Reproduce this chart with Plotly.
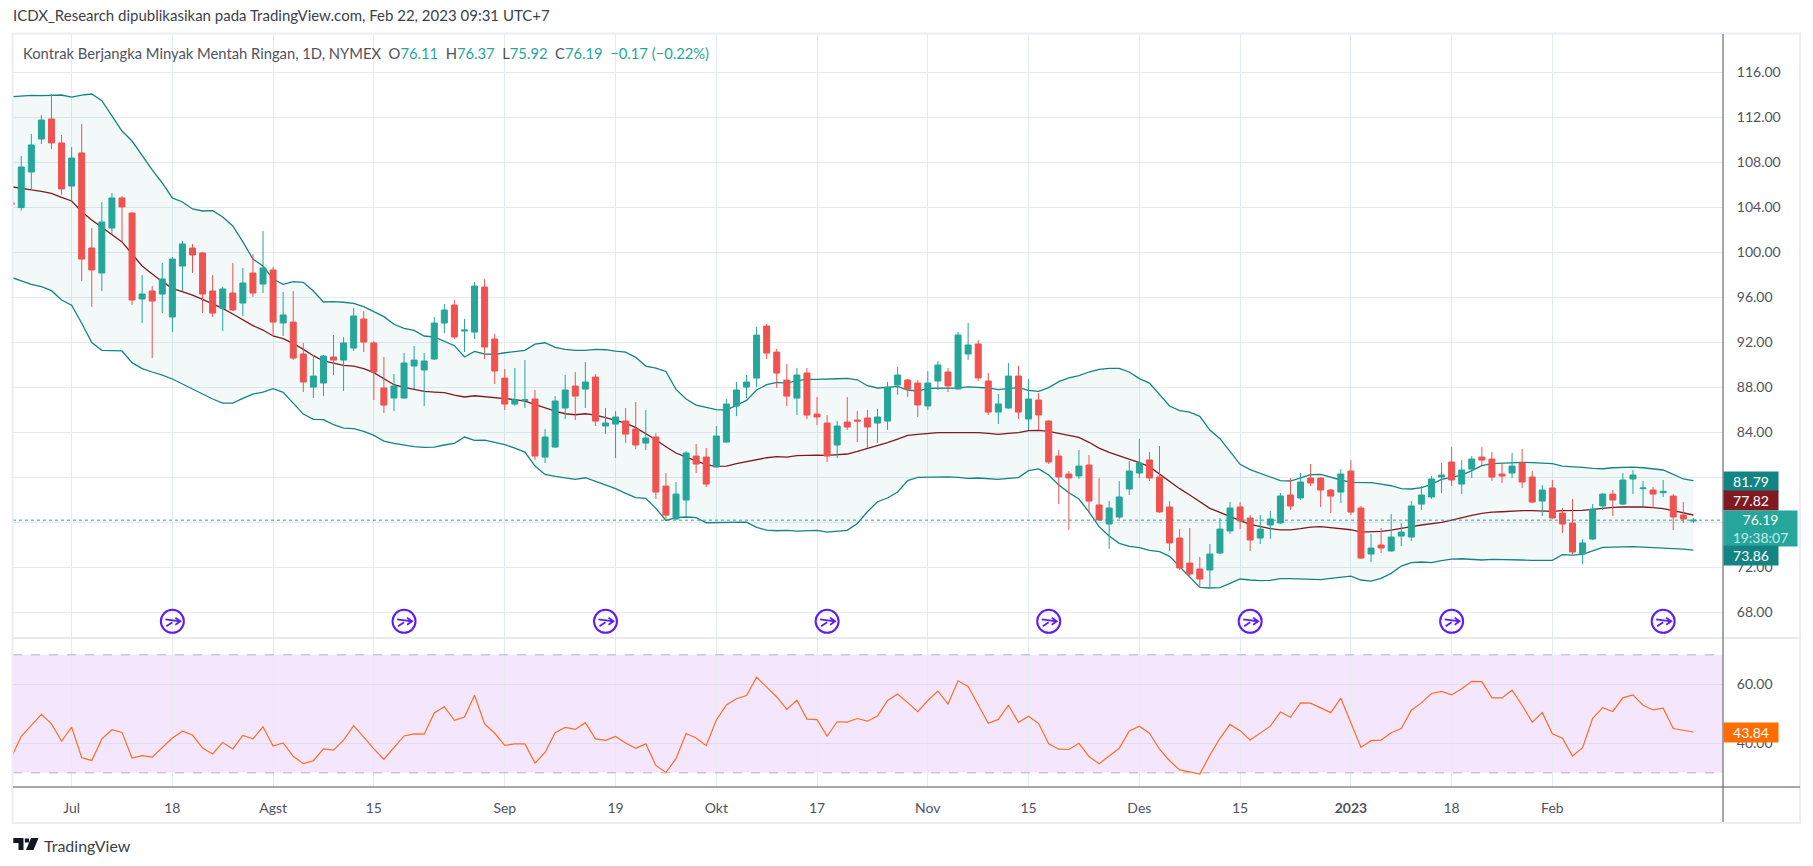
import plotly.graph_objects as go

# bar index 0 is 1 Jul 2022, last bar is 22 Feb 2023 (non trading days are skipped)
bars = list(range(-6, 162))

opens = [
    104.40, 103.97, 107.14, 110.07, 111.85, 109.72, 105.89, 108.83, 100.38, 98.16, 102.16, 104.83,
    103.49, 95.85, 96.56, 96.29, 94.25, 98.78, 100.38, 99.94, 96.56, 95.02, 96.38, 95.49,
    98.16, 97.18, 98.43, 93.72, 93.80, 90.96, 88.02, 88.38, 90.69, 90.42, 91.49, 94.07,
    91.94, 87.94, 87.05, 87.05, 89.89, 89.54, 90.51, 93.71, 95.31, 93.00, 92.91, 96.91,
    92.29, 88.82, 86.51, 86.81, 86.96, 81.80, 82.69, 86.16, 88.11, 87.84, 88.91, 84.56,
    84.73, 85.00, 84.29, 83.04, 83.58, 79.22, 76.29, 77.98, 81.89, 81.80, 80.91, 83.13,
    86.33, 88.02, 88.82, 93.44, 91.13, 88.64, 87.04, 89.27, 85.62, 84.82, 82.87, 84.91,
    85.09, 85.27, 84.82, 85.00, 88.20, 88.65, 88.38, 86.34, 88.56, 89.36, 87.85, 90.96,
    91.85, 88.56, 85.80, 86.16, 89.00, 85.18, 86.87, 85.00, 81.89, 80.29, 80.12, 81.09,
    77.54, 75.85, 76.47, 78.96, 80.38, 81.54, 80.03, 77.36, 74.60, 72.38, 71.85, 71.76,
    73.27, 75.23, 77.36, 76.38, 74.60, 75.76, 75.94, 78.43, 78.16, 79.93, 79.93, 78.87,
    78.69, 80.56, 77.27, 73.18, 73.98, 73.45, 74.78, 74.69, 77.62, 78.25, 80.02, 81.36,
    79.40, 80.73, 81.80, 81.62, 80.29, 80.38, 81.27, 80.02, 77.89, 79.05, 76.82, 75.93,
    73.18, 74.51, 77.45, 78.51, 77.62, 79.85, 78.99, 78.87, 78.63, 78.33, 76.65, 76.11,
]
highs = [
    104.45, 108.56, 110.52, 112.20, 114.07, 110.43, 109.36, 111.40, 102.16, 104.47, 105.27, 105.00,
    103.55, 97.98, 97.00, 99.05, 99.58, 101.00, 100.74, 100.03, 97.98, 96.92, 99.05, 98.60,
    99.85, 101.89, 98.69, 96.47, 96.56, 91.94, 90.87, 90.87, 92.65, 92.47, 95.05, 94.78,
    92.11, 90.69, 89.18, 91.05, 91.67, 91.05, 94.25, 95.40, 95.76, 94.07, 97.36, 97.62,
    92.74, 89.62, 89.71, 90.42, 87.76, 84.29, 87.22, 89.09, 89.36, 90.24, 89.18, 86.16,
    85.89, 86.16, 86.69, 85.98, 83.93, 80.38, 79.58, 82.33, 82.96, 82.60, 84.56, 86.96,
    88.47, 89.09, 93.36, 93.62, 91.40, 90.07, 89.71, 89.71, 87.13, 85.53, 85.00, 87.13,
    85.89, 85.98, 86.07, 88.47, 89.80, 88.74, 88.65, 89.45, 90.34, 89.72, 92.92, 93.72,
    92.20, 89.27, 87.40, 90.16, 89.89, 88.74, 87.49, 85.05, 82.43, 80.56, 82.43, 81.98,
    79.94, 77.89, 79.67, 81.45, 83.40, 82.25, 82.78, 77.89, 75.40, 75.49, 72.92, 74.07,
    76.38, 77.80, 77.80, 76.65, 76.65, 77.00, 78.60, 79.94, 80.38, 81.18, 80.00, 78.95,
    80.73, 81.53, 77.45, 74.96, 75.49, 76.73, 75.93, 77.89, 79.22, 80.11, 81.27, 82.69,
    81.53, 81.89, 82.69, 82.25, 81.27, 82.16, 82.51, 80.56, 79.31, 79.76, 77.27, 78.07,
    74.51, 77.62, 78.60, 78.87, 80.38, 80.65, 79.67, 79.13, 79.76, 78.51, 77.80, 76.37,
]
lows = [
    104.20, 103.70, 105.63, 109.63, 109.18, 105.09, 104.56, 97.45, 95.14, 96.56, 101.63, 100.92,
    95.32, 93.72, 90.60, 94.60, 92.92, 96.56, 98.16, 94.60, 94.25, 93.00, 94.78, 94.34,
    96.03, 96.38, 92.56, 92.56, 90.43, 87.58, 87.05, 87.22, 89.09, 87.67, 91.22, 91.14,
    86.87, 85.71, 85.89, 86.96, 87.85, 86.34, 90.42, 92.82, 92.29, 91.14, 92.29, 90.51,
    88.29, 85.98, 86.33, 86.16, 81.54, 81.27, 82.60, 85.18, 85.09, 86.16, 84.56, 83.84,
    81.71, 83.04, 82.51, 82.42, 78.07, 76.20, 76.20, 76.47, 80.38, 79.13, 80.85, 83.10,
    85.44, 87.04, 88.02, 90.51, 87.93, 86.33, 85.53, 85.18, 84.64, 81.36, 81.71, 84.20,
    83.13, 82.60, 83.05, 84.20, 87.32, 87.14, 85.36, 85.98, 87.76, 87.58, 87.80, 90.43,
    88.56, 85.54, 84.74, 86.10, 85.18, 84.20, 84.20, 81.18, 77.63, 75.32, 79.85, 76.83,
    76.15, 73.63, 76.29, 78.43, 79.94, 79.67, 76.83, 73.45, 71.76, 71.14, 70.16, 70.25,
    73.20, 74.96, 75.40, 73.45, 74.07, 74.52, 75.85, 77.09, 77.98, 79.22, 77.36, 76.82,
    77.71, 76.65, 72.73, 72.47, 73.27, 73.40, 73.89, 74.33, 77.09, 78.07, 78.60, 79.22,
    78.51, 79.93, 81.09, 79.67, 79.49, 79.93, 79.05, 77.71, 76.56, 76.29, 75.05, 73.18,
    72.29, 74.42, 77.09, 76.56, 77.53, 78.51, 77.45, 77.27, 78.25, 75.31, 75.93, 75.92,
]
closes = [
    104.25, 107.58, 109.54, 111.76, 109.72, 105.63, 108.38, 99.40, 98.43, 102.69, 104.83, 104.03,
    95.76, 96.29, 95.67, 97.63, 99.40, 100.74, 99.76, 96.29, 94.60, 96.74, 94.87, 97.27,
    96.38, 98.60, 93.80, 94.43, 90.60, 88.47, 89.00, 90.78, 90.42, 91.94, 94.34, 92.02,
    89.36, 86.42, 88.11, 90.16, 90.42, 90.34, 93.71, 94.87, 92.47, 93.09, 97.00, 91.58,
    89.45, 86.51, 86.90, 86.90, 81.89, 83.58, 86.78, 87.76, 87.22, 88.47, 85.00, 84.82,
    85.36, 83.84, 82.87, 83.49, 78.69, 76.64, 78.51, 82.16, 81.18, 79.40, 83.67, 86.51,
    87.76, 88.47, 92.64, 91.04, 89.27, 87.22, 89.09, 85.53, 85.36, 81.89, 84.56, 84.47,
    85.00, 84.47, 85.36, 88.03, 89.09, 87.85, 86.43, 88.38, 89.98, 88.12, 92.65, 91.76,
    88.83, 85.80, 86.52, 89.00, 85.80, 86.96, 85.54, 81.36, 80.03, 79.94, 81.00, 77.89,
    76.20, 77.27, 78.25, 80.56, 81.27, 79.94, 76.92, 74.16, 71.94, 71.40, 70.96, 73.18,
    75.40, 77.27, 76.12, 74.43, 75.40, 76.29, 78.34, 77.45, 79.58, 79.49, 78.87, 78.33,
    80.29, 76.91, 72.82, 73.71, 73.71, 74.69, 75.13, 77.45, 78.42, 79.85, 80.20, 79.76,
    80.65, 81.62, 81.53, 80.02, 80.11, 81.00, 79.58, 77.80, 78.87, 76.38, 75.85, 73.36,
    74.16, 77.18, 78.51, 77.98, 79.76, 80.20, 79.05, 78.51, 78.75, 76.47, 76.29, 76.19,
]

bb_upper = [
    113.83, 113.92, 113.95, 113.92, 113.92, 113.98, 113.80, 113.98, 114.07, 113.48, 112.12, 110.78,
    109.89, 108.56, 107.32, 106.16, 104.83, 104.47, 103.85, 103.67, 103.70, 103.14, 102.34, 100.92,
    99.40, 98.78, 97.63, 97.15, 97.39, 97.33, 96.56, 95.58, 95.61, 95.56, 95.46, 95.17,
    94.72, 94.28, 93.60, 93.24, 93.06, 92.56, 92.47, 92.12, 91.70, 90.69, 91.19, 90.96,
    90.93, 91.07, 91.19, 91.28, 91.84, 91.96, 91.55, 91.37, 91.28, 91.28, 91.37, 91.34,
    91.22, 91.13, 90.66, 89.89, 89.71, 89.41, 87.81, 86.96, 86.42, 86.24, 86.01, 85.98,
    86.39, 86.84, 87.76, 88.23, 88.44, 88.38, 88.59, 88.70, 88.70, 88.70, 88.76, 88.79,
    88.67, 88.14, 87.94, 88.00, 88.09, 87.76, 87.67, 87.91, 87.91, 87.91, 87.94, 88.03,
    88.00, 87.94, 87.79, 87.91, 87.97, 87.73, 87.64, 87.97, 88.50, 88.83, 89.03, 89.36,
    89.60, 89.69, 89.69, 89.36, 88.77, 88.38, 87.32, 86.34, 85.92, 85.80, 85.42, 84.20,
    83.43, 82.28, 81.15, 80.68, 80.35, 80.03, 79.70, 79.67, 79.94, 80.23, 80.26, 79.99,
    79.76, 79.55, 79.55, 79.52, 79.40, 79.25, 78.99, 78.96, 79.08, 79.37, 79.82, 79.99,
    80.20, 80.59, 81.03, 81.21, 81.24, 81.33, 81.33, 81.30, 81.24, 81.21, 81.00, 80.97,
    80.88, 80.79, 80.76, 80.85, 80.88, 80.91, 80.85, 80.73, 80.65, 80.26, 79.85, 79.70,
]
bb_basis = [
    105.83, 105.66, 105.54, 105.42, 105.24, 104.89, 104.56, 103.61, 102.87, 102.22, 101.57, 100.92,
    99.85, 98.78, 98.07, 97.39, 96.80, 96.50, 96.20, 95.82, 95.40, 95.02, 94.52, 93.98,
    93.48, 93.09, 92.56, 92.32, 91.91, 91.37, 90.81, 90.34, 90.13, 89.95, 89.89, 89.65,
    89.30, 88.79, 88.23, 87.99, 87.82, 87.64, 87.58, 87.52, 87.31, 87.14, 87.25, 87.17,
    87.08, 87.01, 86.90, 86.78, 86.48, 86.13, 85.89, 85.65, 85.56, 85.65, 85.53, 85.30,
    85.06, 84.82, 84.41, 83.87, 83.34, 82.72, 82.16, 81.80, 81.44, 81.12, 80.97, 81.00,
    81.21, 81.39, 81.59, 81.74, 81.83, 81.80, 81.92, 81.98, 81.98, 81.95, 81.98, 82.07,
    82.30, 82.54, 82.81, 83.08, 83.40, 83.73, 83.82, 83.91, 83.97, 83.97, 83.97, 84.00,
    83.97, 83.91, 83.82, 83.91, 83.97, 84.15, 84.17, 84.09, 83.91, 83.70, 83.55, 83.11,
    82.60, 82.22, 81.92, 81.63, 81.30, 80.95, 80.29, 79.61, 78.99, 78.43, 77.83, 77.24,
    76.89, 76.50, 76.15, 75.82, 75.61, 75.43, 75.32, 75.32, 75.43, 75.58, 75.61, 75.52,
    75.40, 75.34, 75.13, 75.13, 75.19, 75.31, 75.43, 75.61, 75.76, 75.88, 75.99, 76.20,
    76.44, 76.62, 76.79, 76.91, 76.94, 77.00, 77.03, 77.03, 77.00, 76.97, 77.03, 77.03,
    77.06, 77.15, 77.27, 77.33, 77.36, 77.39, 77.36, 77.30, 77.21, 77.03, 76.82, 76.65,
]
bb_lower = [
    97.77, 97.48, 97.15, 96.95, 96.59, 95.76, 95.29, 93.69, 91.97, 91.29, 91.23, 91.23,
    90.19, 89.66, 89.36, 89.09, 88.74, 88.29, 87.85, 87.40, 86.96, 86.60, 86.60, 87.02,
    87.40, 87.58, 87.88, 87.55, 86.57, 85.62, 85.15, 85.12, 84.68, 84.38, 84.32, 84.08,
    83.73, 83.22, 83.02, 82.87, 82.72, 82.66, 82.69, 82.87, 83.02, 83.58, 83.28, 83.31,
    83.11, 82.90, 82.60, 82.24, 81.00, 80.26, 80.08, 79.96, 79.81, 79.96, 79.64, 79.28,
    78.99, 78.57, 78.19, 78.13, 77.24, 76.17, 76.41, 76.47, 76.41, 75.96, 75.96, 75.99,
    76.02, 76.02, 75.55, 75.31, 75.25, 75.28, 75.22, 75.25, 75.28, 75.13, 75.22, 75.28,
    75.90, 76.94, 77.83, 78.16, 78.69, 79.70, 80.00, 80.03, 80.03, 80.03, 80.00, 79.91,
    79.94, 79.85, 79.82, 79.91, 79.97, 80.59, 80.74, 80.20, 79.32, 78.63, 78.07, 76.92,
    75.61, 74.78, 74.13, 73.86, 73.75, 73.51, 73.39, 72.97, 72.06, 71.17, 70.22, 70.16,
    70.19, 70.57, 70.96, 70.87, 70.81, 70.84, 70.99, 70.99, 70.96, 70.87, 70.90, 71.02,
    71.13, 71.22, 70.87, 70.78, 71.02, 71.46, 72.11, 72.41, 72.47, 72.41, 72.59, 72.73,
    72.76, 72.68, 72.65, 72.70, 72.70, 72.68, 72.65, 72.62, 72.62, 72.62, 73.12, 73.09,
    73.15, 73.45, 73.77, 73.80, 73.83, 73.83, 73.80, 73.77, 73.74, 73.68, 73.62, 73.53,
]
rsi = [
    35.1, 42.4, 46.1, 49.8, 46.6, 40.7, 45.5, 35.1, 34.2, 41.5, 44.6, 43.7,
    35.0, 35.8, 35.3, 38.6, 41.8, 44.1, 42.8, 38.4, 36.4, 40.3, 38.1, 42.7,
    41.5, 45.6, 39.1, 40.1, 35.6, 33.1, 34.1, 38.1, 37.7, 41.1, 46.0, 42.1,
    38.1, 34.6, 38.5, 42.5, 43.2, 43.1, 50.3, 52.4, 47.8, 48.9, 56.3, 46.6,
    43.4, 39.3, 39.8, 39.8, 33.3, 36.9, 43.6, 45.4, 44.7, 47.0, 41.5, 41.0,
    42.3, 40.1, 38.3, 39.8, 32.5, 30.1, 34.8, 43.3, 41.8, 39.2, 47.9, 53.0,
    55.1, 56.2, 62.4, 59.2, 55.7, 51.5, 54.6, 48.2, 48.0, 42.4, 47.3, 47.2,
    48.4, 47.5, 49.2, 54.5, 56.7, 53.8, 50.7, 54.5, 57.7, 53.3, 61.2, 59.3,
    52.8, 46.8, 48.1, 52.9, 47.1, 49.2, 46.7, 39.8, 38.0, 37.9, 40.0, 35.5,
    33.1, 35.7, 38.3, 44.2, 45.8, 43.4, 38.0, 34.1, 31.0, 30.3, 29.6, 36.0,
    41.7, 46.4, 44.3, 41.1, 43.5, 45.8, 50.6, 48.8, 53.7, 53.6, 52.0, 50.4,
    55.3, 46.8, 38.6, 40.9, 41.1, 43.6, 45.0, 51.2, 53.7, 56.9, 57.6, 56.4,
    58.5, 61.0, 60.9, 55.4, 55.4, 58.0, 52.9, 47.1, 50.4, 43.2, 41.7, 35.7,
    38.5, 48.5, 52.1, 50.8, 55.4, 56.4, 52.9, 51.3, 51.9, 45.0, 44.4, 43.84,
]

tick_bars = [0, 10, 20, 30, 43, 54, 64, 74, 85, 95, 106, 116, 127, 137, 147]
tick_labels = ['Jul', '18', 'Agst', '15', 'Sep', '19', 'Okt', '17', 'Nov', '15', 'Des', '15',
               '<b>2023</b>', '18', 'Feb']
price_ticks = [68, 72, 76, 80, 84, 88, 92, 96, 100, 104, 108, 112, 116]
rsi_ticks = [40, 60]

event_bars = [10, 33, 53, 75, 97, 117, 137, 158]
event_level = 67.2

W, H = 1813, 866
GRID = '#e4ecf2'
TEXT = '#50535e'
UP = '#26a69a'
DOWN = '#ef5350'
BAND = '#138484'
BASIS = '#801922'
FONT = 'Lato, "Open Sans", sans-serif'


def px(x):
    return x / W


def py(y):
    return 1 - y / H


fig = go.Figure()
fig.add_scatter(x=bars, y=bb_lower, mode='lines', line=dict(color=BAND, width=1.3),
                xaxis='x', yaxis='y')
fig.add_scatter(x=bars, y=bb_upper, mode='lines', line=dict(color=BAND, width=1.3),
                fill='tonexty', fillcolor='rgba(19,132,132,0.05)', xaxis='x', yaxis='y')
fig.add_scatter(x=bars, y=bb_basis, mode='lines', line=dict(color=BASIS, width=1.3),
                xaxis='x', yaxis='y')
# candles go on an overlaid axis so they sit on top of the bands
fig.add_candlestick(x=bars, open=opens, high=highs, low=lows, close=closes,
                    increasing=dict(line=dict(color=UP, width=1), fillcolor=UP),
                    decreasing=dict(line=dict(color=DOWN, width=1), fillcolor=DOWN),
                    whiskerwidth=0, xaxis='x', yaxis='y3')
fig.add_scatter(x=event_bars, y=[event_level] * len(event_bars), mode='markers',
                marker=dict(symbol='circle-open', size=23, color='#5b1cff', line=dict(color='#5b1cff', width=2)),
                xaxis='x', yaxis='y3')
fig.add_scatter(x=bars, y=rsi, mode='lines', line=dict(color='#ff6d1f', width=1.2),
                xaxis='x2', yaxis='y2')

shapes = [
    dict(type='rect', xref='x2 domain', yref='y2', x0=0, x1=1, y0=30, y1=70, layer='below',
         fillcolor='rgba(156,39,240,0.11)', line=dict(width=0)),
    dict(type='line', xref='x2 domain', yref='y2', x0=0, x1=1, y0=70, y1=70,
         line=dict(color='#b8aebf', width=1, dash='dash')),
    dict(type='line', xref='x2 domain', yref='y2', x0=0, x1=1, y0=30, y1=30,
         line=dict(color='#b8aebf', width=1, dash='dash')),
    dict(type='line', xref='x domain', yref='y', x0=0, x1=1, y0=closes[-1], y1=closes[-1],
         line=dict(color=UP, width=1, dash='dot')),
    # frame, pane separator, axis lines
    dict(type='rect', xref='paper', yref='paper', x0=px(12.5), x1=px(1800), y0=py(823), y1=py(33.5),
         line=dict(color='#eceef3', width=2)),
    dict(type='line', xref='paper', yref='paper', x0=px(13), x1=px(1800), y0=py(638), y1=py(638),
         line=dict(color='#e0e3eb', width=1.5)),
    dict(type='line', xref='paper', yref='paper', x0=px(13), x1=px(1800), y0=py(787), y1=py(787),
         line=dict(color=TEXT, width=1)),
    dict(type='line', xref='paper', yref='paper', x0=px(1723), x1=px(1723), y0=py(34), y1=py(822),
         line=dict(color=TEXT, width=1)),
]
# arrow glyph inside each event circle
for b in event_bars:
    shapes.append(dict(type='path', xref='x', yref='y3', xsizemode='pixel', ysizemode='pixel',
                       xanchor=b, yanchor=event_level,
                       path='M -7 2 L 8 0 M 3 3.5 L 8 0 L 3 -3.5 M -6 -5 L 0 -1',
                       line=dict(color='#5b1cff', width=1.8)))
# TradingView logo
logo = [[(13.3, 838), (23.5, 838), (23.5, 850), (18.5, 850), (18.5, 843), (13.3, 843)],
        [(31, 838), (38.5, 838), (33.5, 850), (26, 850)],
        [(24.8, 838.5), (29, 838.5), (29, 842.5), (24.8, 842.5)]]
for poly in logo:
    path = 'M ' + ' L '.join(f'{px(x):.5f} {py(y):.5f}' for x, y in poly) + ' Z'
    shapes.append(dict(type='path', xref='paper', yref='paper', path=path, fillcolor='#131722',
                       line=dict(width=0)))

teal = f'<span style="color:{UP}">'
ohlc = (f'&nbsp;&nbsp;O{teal}{opens[-1]}</span>&nbsp;&nbsp;H{teal}{highs[-1]}</span>'
        f'&nbsp;&nbsp;L{teal}{lows[-1]}</span>&nbsp;&nbsp;C{teal}{closes[-1]}</span>'
        f'&nbsp;&nbsp;{teal}\u22120.17 (\u22120.22%)</span>')


def note(x, y, text, size=14, color=TEXT, **kw):
    return dict(xref='paper', yref='paper', x=px(x), y=py(y), text=text, showarrow=False,
                xanchor=kw.pop('xanchor', 'left'), yanchor='middle',
                font=dict(family=FONT, size=size, color=color), **kw)


def tag(y, text, bg, w=54, h=19):
    return note(1723, y, text, size=14, color='white', width=w, height=h, bgcolor=bg, align='center',
                valign='middle', borderpad=0)


annotations = [
    note(11, 15, 'ICDX_Research dipublikasikan pada TradingView.com, Feb 22, 2023 09:31 UTC+7', size=15, color='#3c3f4a'),
    note(21, 53, 'Kontrak Berjangka Minyak Mentah Ringan, 1D, NYMEX' + ohlc, size=14.75),
    note(42, 845, 'TradingView', size=16, color='#3c3f4a'),
    tag(481.5, '81.79', BAND),
    tag(500.5, '77.82', BASIS),
    tag(528.5, f'{closes[-1]}<br><span style="color:#c4e9e5">19:38:07</span>', UP, w=73, h=35),
    tag(555.5, '73.86', BAND),
    tag(732.5, f'{rsi[-1]:.2f}', '#ff6d00'),
]

fig.update_layout(
    width=W, height=H, margin=dict(l=0, r=0, t=0, b=0), autosize=False,
    paper_bgcolor='white', plot_bgcolor='white', showlegend=False, boxgap=0.15,
    font=dict(family=FONT, size=14, color=TEXT), shapes=shapes, annotations=annotations,
    xaxis=dict(domain=[px(13), px(1723)], range=[-5.82, 163.94], tickvals=tick_bars, showticklabels=False,
               showgrid=True, gridcolor=GRID, zeroline=False, anchor='y', rangeslider=dict(visible=False)),
    xaxis2=dict(domain=[px(13), px(1723)], range=[-5.82, 163.94], tickvals=tick_bars, ticktext=tick_labels,
                showgrid=True, gridcolor=GRID, zeroline=False, anchor='y2', ticks='outside', ticklen=8,
                tickcolor='rgba(0,0,0,0)', tickangle=0),
    yaxis=dict(domain=[py(638), py(34)], range=[65.716, 119.404], side='right', tickvals=price_ticks,
               tickformat='.2f', showgrid=True, gridcolor=GRID, zeroline=False, anchor='x',
               ticks='outside', ticklen=10, tickcolor='rgba(0,0,0,0)'),
    yaxis2=dict(domain=[py(787), py(638)], range=[25.19, 75.69], side='right', tickvals=rsi_ticks,
                tickformat='.2f', showgrid=True, gridcolor='#e2daf0', zeroline=False, anchor='x2',
                ticks='outside', ticklen=10, tickcolor='rgba(0,0,0,0)'),
    yaxis3=dict(domain=[py(638), py(34)], range=[65.716, 119.404], overlaying='y', side='right',
                visible=False, anchor='x'),
)

fig.write_html("out.html", post_script="document.body.style.margin='0';", config={'displayModeBar': False})
